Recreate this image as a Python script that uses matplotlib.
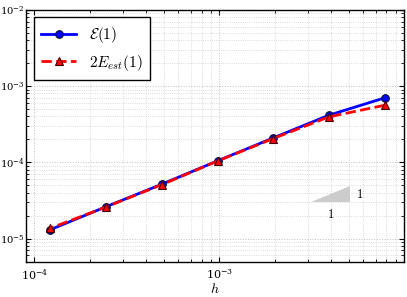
import numpy as np
import matplotlib
matplotlib.use("Agg")
import matplotlib.pyplot as plt
from matplotlib.patches import Polygon
from matplotlib.ticker import LogLocator, NullFormatter

plt.rcParams['mathtext.fontset'] = 'cm'
plt.rcParams['font.family'] = ['DejaVu Serif']

# data
h = [1/128, 1/256, 1/512, 1/1024, 1/2048, 1/4096, 1/8192]
err_true = [7.0e-4, 4.15e-4, 2.09e-4, 1.045e-4, 5.17e-5, 2.62e-5, 1.31e-5]
err_est = [5.6e-4, 3.95e-4, 2.05e-4, 1.04e-4, 5.1e-5, 2.6e-5, 1.37e-5]
label_true = r'$\mathcal{E}(1)$'
label_est = r'$2E_{est}(1)$'
tri_x = [3.14e-3, 5.05e-3]
tri_y0 = 3.0e-5

fig = plt.figure(figsize=(4.07, 2.97), dpi=100)
ax = fig.add_axes([0.0639, 0.1195, 0.9287, 0.8473])

ax.loglog(h, err_true, '-', color='#0000ff', lw=2, marker='o', ms=5.5,
          mfc='#0000ff', mec='#101030', mew=0.8, label=label_true, zorder=3)
ax.loglog(h, err_est, '--', color='#ff0000', lw=2, marker='^', ms=5.5,
          mfc='#ff0000', mec='#400000', mew=0.8, label=label_est, zorder=4)

# slope triangle
x0, x1 = tri_x
y1 = tri_y0 * x1 / x0
ax.add_patch(Polygon([[x0, tri_y0], [x1, tri_y0], [x1, y1]], closed=True,
                     facecolor='#cccccc', edgecolor='none', zorder=2))
ax.text(x1 * 1.08, np.sqrt(tri_y0 * y1), r'$1$', fontsize=9, ha='left', va='center')
ax.text(np.sqrt(x0 * x1), tri_y0 * 0.85, r'$1$', fontsize=9, ha='center', va='top')

ax.set_xlim(9e-5, 9.95e-3)
ax.set_ylim(5e-6, 1e-2)
ax.set_xlabel(r'$h$', fontsize=10, labelpad=0)

ax.xaxis.set_major_locator(LogLocator(base=10, numticks=10))
ax.yaxis.set_major_locator(LogLocator(base=10, numticks=10))
ax.xaxis.set_minor_locator(LogLocator(base=10, subs=np.arange(2, 10), numticks=20))
ax.yaxis.set_minor_locator(LogLocator(base=10, subs=np.arange(2, 10), numticks=20))
ax.xaxis.set_minor_formatter(NullFormatter())
ax.yaxis.set_minor_formatter(NullFormatter())

ax.tick_params(which='both', direction='in', top=True, right=True, labelsize=8)
ax.tick_params(axis='y', labelsize=7.2)
ax.tick_params(which='major', length=3.5, width=0.8)
ax.tick_params(which='minor', length=2, width=0.6)
ax.tick_params(axis='x', pad=4)
ax.tick_params(axis='y', pad=1)

ax.grid(True, which='major', ls=':', color='#c0c0c0', lw=0.7)
ax.grid(True, which='minor', ls=':', color='#d0d0d0', lw=0.6)
ax.set_axisbelow(True)
for s in ax.spines.values():
    s.set_linewidth(1.0)

leg = ax.legend(loc='upper left', fontsize=11, fancybox=False, edgecolor='black',
                framealpha=1, borderpad=0.5, handlelength=2.3,
                bbox_to_anchor=(0.0, 1.0), borderaxespad=0.5)
leg.get_frame().set_linewidth(1.0)

fig.savefig('out.png', dpi=100)
